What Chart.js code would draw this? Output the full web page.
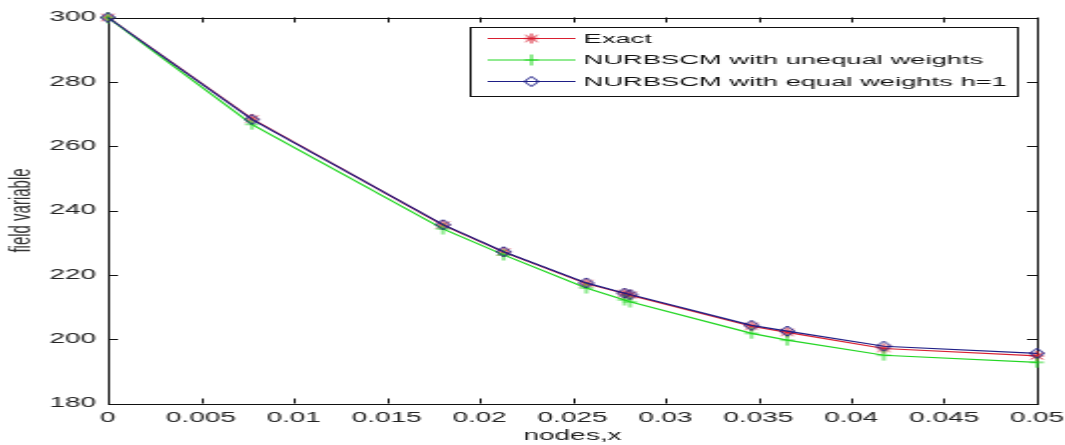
<!DOCTYPE html>
<html>
<head>
<meta charset="utf-8">
<script src="https://cdn.jsdelivr.net/npm/chart.js@4.4.1/dist/chart.umd.min.js"></script>
<style>
  html, body { margin: 0; padding: 0; background: #fff; overflow: hidden; }
  /* the reference figure is stretched about 2x horizontally */
  #chart { transform: scaleX(1.998); transform-origin: 0 0; }
</style>
</head>
<body>
<canvas id="chart" width="533" height="445"></canvas>
<script>
const nodes = [0, 0.00775, 0.01803, 0.0213, 0.02574, 0.0278, 0.0281, 0.03464, 0.03656, 0.04176, 0.05];
const exact = [300, 268.5, 235.5, 227.1, 217.3, 214.2, 213.7, 204.0, 202.1, 197.1, 194.8];
const unequalWeights = [300, 266.8, 234.3, 226.2, 215.9, 212.2, 211.6, 201.8, 199.7, 195.0, 192.8];
const equalWeights = [300, 268.3, 235.6, 227.2, 217.5, 214.3, 213.9, 204.3, 202.5, 197.8, 195.6];

const xTicks = [0, 0.005, 0.01, 0.015, 0.02, 0.025, 0.03, 0.035, 0.04, 0.045, 0.05];
const xTickLabels = ["0", "0.005", "0.01", "0.015", "0.02", "0.025", "0.03", "0.035", "0.04", "0.045", "0.05"];
const yTicks = [180, 200, 220, 240, 260, 280, 300];

const FONT = "'Liberation Sans', Arial, sans-serif";
const RED = "#d81f30", GREEN = "#22d622", BLUE = "#1e1e86";

/* small marker images like matlab's *, + and diamond */
function makeMarker(shape, color) {
  const c = document.createElement("canvas");
  c.width = 10; c.height = 12;
  const g = c.getContext("2d");
  g.strokeStyle = color;
  g.lineWidth = 1;
  const cx = 5, cy = 6;
  g.beginPath();
  if (shape === "diamond") {
    g.moveTo(cx, 1); g.lineTo(cx + 3.6, cy); g.lineTo(cx, 11); g.lineTo(cx - 3.6, cy); g.closePath();
  } else if (shape === "plus") {
    g.moveTo(cx, 0.5); g.lineTo(cx, 11.5);
    g.moveTo(1.5, cy); g.lineTo(8.5, cy);
  } else {
    g.moveTo(cx, 1); g.lineTo(cx, 11);
    g.moveTo(1.5, cy); g.lineTo(8.5, cy);
    g.moveTo(2, 2.5); g.lineTo(8, 9.5);
    g.moveTo(8, 2.5); g.lineTo(2, 9.5);
  }
  g.stroke();
  return c;
}

const toPoints = ys => nodes.map((x, i) => ({ x, y: ys[i] }));

function series(label, ys, color, marker, order) {
  return {
    label,
    data: toPoints(ys),
    borderColor: color,
    backgroundColor: color,
    borderWidth: 1.2,
    pointStyle: makeMarker(marker, color),
    pointRadius: 4,
    tension: 0,
    clip: false,
    order
  };
}

/* box around the axes with inward ticks on all four sides */
const frame = {
  id: "frame",
  beforeDatasetsDraw(chart) {
    const { ctx, chartArea: a, scales: { x, y } } = chart;
    const len = 5;
    ctx.save();
    ctx.strokeStyle = "#111";
    ctx.lineWidth = 1;
    ctx.beginPath();
    xTicks.forEach(v => {
      const px = Math.round(x.getPixelForValue(v)) + 0.5;
      ctx.moveTo(px, a.bottom); ctx.lineTo(px, a.bottom - len);
      ctx.moveTo(px, a.top); ctx.lineTo(px, a.top + len);
    });
    yTicks.forEach(v => {
      const py = Math.round(y.getPixelForValue(v)) + 0.5;
      ctx.moveTo(a.left, py); ctx.lineTo(a.left + len, py);
      ctx.moveTo(a.right, py); ctx.lineTo(a.right - len, py);
    });
    ctx.stroke();
    ctx.strokeRect(Math.round(a.left) + 0.5, Math.round(a.top) + 0.5,
      Math.round(a.right - a.left), Math.round(a.bottom - a.top));
    ctx.restore();
  }
};

const legendBox = {
  id: "legendBox",
  afterDraw(chart) {
    const ctx = chart.ctx;
    const sets = chart.data.datasets;
    ctx.save();
    ctx.font = "13.7px " + FONT;
    const left = 235.5, top = 27.5, bottom = 96.5;
    const textX = 292;
    const widest = Math.max(...sets.map(d => ctx.measureText(d.label).width));
    const right = Math.round(textX + widest + 5) + 0.5;
    ctx.fillStyle = "#fff";
    ctx.fillRect(left, top, right - left, bottom - top);
    ctx.strokeStyle = "#111";
    ctx.lineWidth = 1;
    ctx.strokeRect(left, top, right - left, bottom - top);
    sets.forEach((d, i) => {
      const yy = 38.5 + i * 21.5;
      ctx.strokeStyle = d.borderColor;
      ctx.beginPath();
      ctx.moveTo(244, yy); ctx.lineTo(288, yy);
      ctx.stroke();
      const m = d.pointStyle;
      ctx.drawImage(m, 266 - m.width / 2, yy - m.height / 2);
      ctx.fillStyle = "#111";
      ctx.textBaseline = "middle";
      ctx.fillText(d.label, textX, yy + 0.5);
    });
    ctx.restore();
  }
};

new Chart(document.getElementById("chart"), {
  type: "line",
  data: {
    datasets: [
      series("Exact", exact, RED, "star", 2),
      series("NURBSCM with unequal weights", unequalWeights, GREEN, "plus", 1),
      series("NURBSCM with equal weights h=1", equalWeights, BLUE, "diamond", 0)
    ]
  },
  options: {
    responsive: false,
    devicePixelRatio: 1,
    animation: false,
    events: [],
    layout: { padding: { top: 17.5, right: 14, left: 0, bottom: 0 } },
    plugins: { legend: { display: false }, tooltip: { enabled: false } },
    scales: {
      x: {
        type: "linear",
        min: 0,
        max: 0.05,
        grid: { display: false, drawTicks: false },
        border: { display: false },
        afterBuildTicks: s => { s.ticks = xTicks.map(v => ({ value: v })); },
        afterFit: s => { s.height = 41.5; s.paddingLeft = 0; s.paddingRight = 0; },
        ticks: {
          autoSkip: false,
          maxRotation: 0,
          padding: 6,
          color: "#222",
          font: { family: FONT, size: 14 },
          callback: (v, i) => xTickLabels[i]
        },
        title: {
          display: true,
          text: "nodes,x",
          color: "#222",
          padding: { top: 0, bottom: 0 },
          font: { family: FONT, size: 14 }
        }
      },
      y: {
        min: 180,
        max: 300,
        grid: { display: false, drawTicks: false },
        border: { display: false },
        afterBuildTicks: s => { s.ticks = yTicks.map(v => ({ value: v })); },
        afterFit: s => { s.width = 54; },
        ticks: {
          padding: 6,
          color: "#222",
          font: { family: FONT, size: 14 }
        },
        title: {
          display: true,
          text: "field variable",
          color: "#333",
          padding: { top: 2, bottom: 0 },
          font: { family: FONT, size: 15 }
        }
      }
    }
  },
  plugins: [frame, legendBox]
});
</script>
</body>
</html>
